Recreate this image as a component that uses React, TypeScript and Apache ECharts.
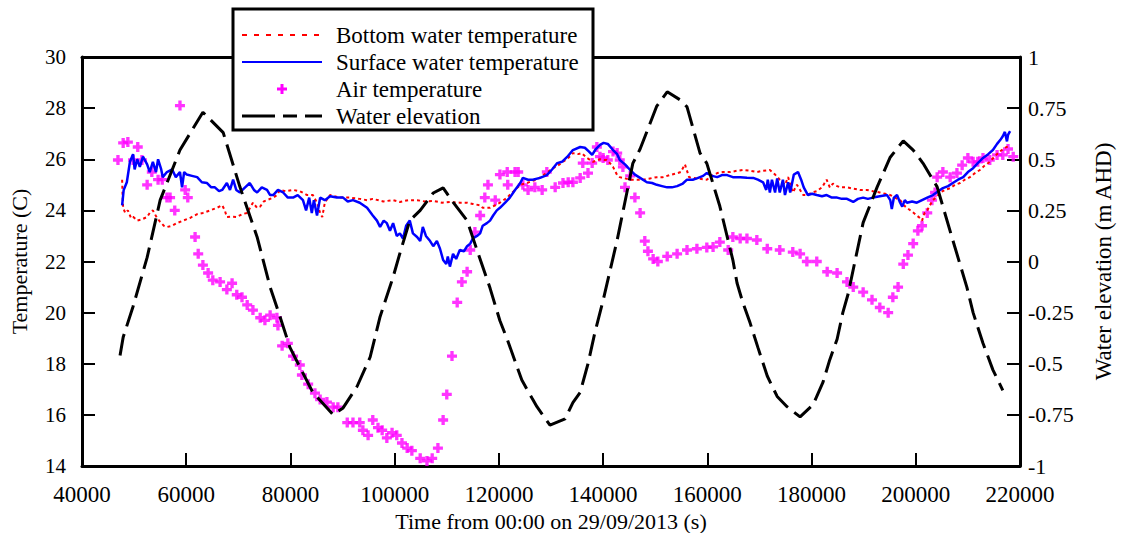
import React, { useEffect, useRef } from "react";
import * as echarts from "echarts";

// Time (s) vs bottom water temperature (C)
const bottomTemp: [number, number][] = [
  [47700, 25.2], [47800, 24.5], [47900, 24.1], [48300, 23.9], [48800, 24.0], [49400, 23.7], [49800, 23.75],
  [50600, 23.6], [51500, 23.65], [52500, 23.74], [53000, 23.9], [53600, 24.0], [54400, 23.7], [55000, 23.55],
  [55700, 23.4], [56300, 23.35], [57300, 23.4], [58200, 23.5], [59400, 23.6], [60700, 23.7], [62100, 23.85],
  [63200, 23.9], [64600, 24.0], [65900, 24.1], [66900, 24.2], [67400, 24.0], [67800, 23.74], [68800, 23.75],
  [69700, 23.74], [70700, 23.85], [71700, 23.9], [72800, 24.3], [73600, 24.1], [74200, 24.15], [74900, 24.35],
  [75500, 24.4], [76700, 24.5], [77400, 24.6], [78000, 24.8], [79100, 24.75], [80500, 24.8], [81800, 24.75],
  [83200, 24.6], [84300, 24.6], [85100, 24.3], [85700, 23.9], [86100, 23.74], [86600, 24.3], [87600, 24.6],
  [89500, 24.5], [91400, 24.5], [93300, 24.45], [94700, 24.4], [95800, 24.45], [97800, 24.35], [99700, 24.4],
  [101000, 24.33], [102600, 24.4], [104300, 24.4], [105800, 24.35], [107400, 24.37], [109100, 24.3],
  [110600, 24.33], [112500, 24.3], [113900, 24.3], [115000, 24.25], [116400, 24.2], [116900, 24.1],
  [118300, 24.1], [119300, 24.2], [120200, 24.3], [121600, 24.5], [122300, 24.65], [123100, 24.8],
  [124100, 25.0], [125400, 25.07], [126400, 25.15], [127300, 25.2], [128500, 25.38], [129400, 25.5],
  [130400, 25.65], [131300, 25.75], [132300, 25.9], [133300, 26.05], [134200, 26.24], [135200, 26.2],
  [135900, 26.24], [136900, 26.05], [138100, 25.9], [139400, 26.0], [140200, 25.97], [140700, 25.97],
  [141300, 25.85], [141900, 25.7], [142700, 25.38], [143200, 25.3], [143800, 25.27], [145200, 25.2],
  [146500, 25.2], [147700, 25.2], [149000, 25.25], [150300, 25.3], [151500, 25.3], [152800, 25.38],
  [154200, 25.45], [154900, 25.5], [155700, 25.8], [156500, 25.3], [158000, 25.25], [159900, 25.2],
  [160900, 25.35], [161900, 25.46], [163000, 25.5], [164400, 25.5], [165700, 25.55], [166800, 25.58],
  [168200, 25.55], [169500, 25.5], [170700, 25.55], [172000, 25.58], [173000, 25.4], [173900, 25.2],
  [174900, 25.0], [175500, 25.3], [176100, 24.9], [176400, 24.7], [177200, 25.0], [177800, 24.8],
  [178400, 24.6], [179100, 24.6], [180100, 24.7], [181000, 24.75], [182000, 24.9], [182900, 25.2],
  [183500, 24.9], [184100, 25.05], [184900, 24.95], [185500, 24.9], [186800, 24.9], [188000, 24.85],
  [189300, 24.8], [190600, 24.8], [191800, 24.75], [193100, 24.7], [194100, 24.65], [195100, 24.6],
  [196000, 24.5], [197000, 24.4], [197700, 24.2], [198300, 24.1], [199300, 23.95], [200200, 23.8],
  [200800, 23.7], [201200, 23.6], [201700, 23.9], [202200, 24.0], [202700, 24.2], [203300, 24.4],
  [204100, 24.55], [204700, 24.7], [205600, 24.8], [206600, 24.87], [207500, 25.0], [208500, 25.07],
  [209400, 25.2], [210400, 25.3], [211300, 25.45], [212300, 25.58], [213200, 25.75], [214200, 25.9],
  [215100, 26.1], [216100, 26.3], [216800, 26.4], [217400, 26.48], [218000, 26.5],
];

// Time (s) vs surface water temperature (C)
const surfaceTemp: [number, number][] = [
  [47700, 24.2], [48000, 24.8], [48600, 25.1], [49200, 25.9], [49800, 26.2], [50100, 25.6], [50600, 26.0],
  [51100, 25.7], [51700, 26.1], [52500, 25.8], [53000, 25.5], [53600, 25.9], [54200, 25.5], [54600, 26.0],
  [55200, 25.6], [55500, 25.3], [56300, 25.5], [57300, 25.6], [58000, 25.3], [58800, 25.5], [59200, 24.9],
  [59600, 25.5], [60100, 25.4], [61100, 25.35], [62100, 25.3], [63000, 25.1], [64000, 25.07], [64800, 24.9],
  [65500, 24.9], [66300, 24.75], [66900, 24.8], [67800, 25.07], [68400, 24.8], [69000, 25.2], [69600, 24.8],
  [70300, 24.7], [71300, 24.9], [72200, 25.07], [73000, 24.8], [73600, 24.7], [74500, 24.9], [75500, 24.8],
  [76100, 24.6], [76700, 24.6], [77600, 24.8], [78600, 24.7], [79500, 24.5], [80500, 24.5], [81400, 24.6],
  [82400, 24.4], [83000, 24.0], [83600, 24.5], [84100, 23.9], [84500, 24.4], [85100, 23.8], [85700, 24.5],
  [86600, 24.4], [87600, 24.55], [88900, 24.5], [90100, 24.5], [91000, 24.35], [92000, 24.4], [93300, 24.3],
  [94700, 24.1], [95800, 23.8], [96600, 23.6], [97200, 23.35], [97900, 23.6], [98500, 23.5], [99100, 23.2],
  [99700, 23.5], [100400, 23.0], [101000, 23.1], [101600, 22.9], [102200, 23.4], [102900, 23.6],
  [103500, 23.1], [104300, 22.96], [104900, 22.8], [105400, 23.35], [106000, 23.0], [106800, 22.8],
  [107400, 22.6], [108100, 22.8], [108700, 22.5], [109300, 22.06], [109900, 21.9], [110200, 22.2],
  [110600, 21.8], [111200, 22.3], [111800, 22.1], [112500, 22.45], [113300, 22.4], [113900, 22.6],
  [114500, 22.7], [115000, 22.9], [115800, 23.0], [116400, 23.1], [116900, 23.4], [117700, 23.5],
  [118300, 23.6], [118900, 23.8], [119600, 24.0], [120200, 24.1], [121200, 24.3], [122100, 24.5],
  [123100, 24.8], [124100, 25.07], [124600, 25.27], [125600, 25.2], [126500, 25.2], [127900, 25.27],
  [129200, 25.38], [130200, 25.6], [131200, 25.85], [132100, 25.9], [133100, 26.09], [134200, 26.36],
  [135600, 26.48], [136500, 26.45], [137300, 26.3], [137900, 26.17], [138600, 26.4], [139400, 26.56],
  [140100, 26.64], [140900, 26.6], [141900, 26.36], [142700, 26.2], [143200, 25.97], [144200, 25.8],
  [145200, 25.58], [146100, 25.4], [147100, 25.27], [148400, 25.1], [149400, 25.07], [150300, 25.0],
  [151300, 24.95], [152300, 24.9], [153200, 24.9], [154200, 24.95], [155300, 25.05], [156100, 25.2],
  [157200, 25.2], [158000, 25.25], [159200, 25.35], [159900, 25.46], [160900, 25.35], [161900, 25.3],
  [162800, 25.38], [163800, 25.38], [164900, 25.3], [166300, 25.3], [167600, 25.28], [168800, 25.27],
  [169700, 25.2], [170700, 25.1], [171300, 24.8], [171600, 25.2], [172000, 24.7], [172400, 25.2],
  [173000, 24.7], [173400, 25.25], [173900, 24.7], [174500, 25.2], [174900, 24.6], [175500, 25.1],
  [175900, 24.7], [176600, 25.4], [177400, 25.5], [178000, 25.2], [178500, 24.9], [179300, 24.6],
  [180100, 24.65], [181000, 24.6], [182000, 24.55], [182900, 24.6], [183900, 24.5], [184900, 24.5],
  [185800, 24.45], [186800, 24.45], [188000, 24.33], [188900, 24.45], [189900, 24.5], [190800, 24.45],
  [191800, 24.5], [193100, 24.55], [194500, 24.6], [195100, 24.4], [195400, 24.05], [195800, 24.5],
  [196400, 24.6], [197000, 24.3], [197400, 24.15], [197900, 24.4], [198300, 24.3], [199300, 24.35],
  [200200, 24.3], [201200, 24.4], [202200, 24.5], [203300, 24.6], [204300, 24.75], [205200, 24.87],
  [206200, 24.95], [207100, 25.07], [208100, 25.2], [209100, 25.3], [210000, 25.5], [211000, 25.65],
  [211900, 25.85], [212900, 26.05], [213900, 26.2], [214800, 26.36], [215600, 26.6], [216200, 26.75],
  [216700, 26.9], [217100, 27.07], [217500, 26.7], [217700, 26.95], [218100, 27.1],
];

// Time (s) vs air temperature (C)
const airTemp: [number, number][] = [
  [46900, 25.97], [47900, 26.64], [48800, 26.67], [49800, 25.97], [50700, 26.48], [51500, 25.97],
  [52500, 25.0], [53400, 25.5], [54600, 25.2], [55400, 25.2], [56300, 24.5], [56900, 24.5], [57800, 24.0],
  [58800, 28.1], [59800, 24.8], [60300, 24.5], [61700, 22.96], [62300, 22.3], [63200, 21.86], [64200, 21.55],
  [65100, 21.27], [66500, 21.2], [67800, 20.9], [68800, 21.15], [69700, 20.7], [70700, 20.6], [71700, 20.3],
  [72800, 20.1], [74200, 19.8], [75100, 19.7], [76100, 19.9], [77400, 19.8], [77600, 19.5], [78400, 18.7],
  [79500, 18.8], [80500, 18.3], [81800, 17.95], [82200, 17.56], [83400, 17.2], [84700, 16.85], [85700, 16.6],
  [87000, 16.5], [88200, 16.3], [89100, 16.3], [90900, 15.7], [92000, 15.7], [93300, 15.7], [93900, 15.4],
  [94900, 15.2], [95800, 15.8], [96800, 15.5], [97600, 15.4], [98500, 15.1], [99500, 15.3], [100400, 15.2],
  [101400, 14.9], [102400, 14.7], [103300, 14.6], [104900, 14.3], [106200, 14.2], [107200, 14.3],
  [108300, 14.7], [109300, 15.8], [110000, 16.8], [111000, 18.3], [112000, 20.4], [112900, 21.2],
  [113900, 21.6], [114500, 22.45], [115400, 23.15], [116400, 23.8], [117300, 24.5], [117900, 25.0],
  [119300, 24.4], [120200, 25.4], [121600, 25.5], [121700, 25.0], [123100, 25.5], [123700, 25.5],
  [124600, 25.0], [125600, 24.8], [126900, 24.9], [128300, 24.8], [129200, 25.5], [130800, 24.9],
  [132300, 25.07], [133300, 25.1], [134200, 25.1], [135600, 25.27], [136100, 25.85], [137100, 25.46],
  [137900, 25.85], [138800, 26.48], [139400, 26.1], [140000, 26.05], [140900, 25.97], [141900, 26.3],
  [142700, 26.24], [143200, 25.97], [143800, 25.7], [144200, 24.9], [145200, 25.35], [146100, 24.5],
  [147100, 23.9], [148000, 22.8], [148600, 22.4], [149600, 22.1], [150500, 22.0], [152300, 22.2],
  [154200, 22.3], [156100, 22.45], [158000, 22.5], [159900, 22.55], [161100, 22.57], [162400, 22.76],
  [164000, 22.45], [164900, 22.96], [166300, 22.9], [167600, 22.9], [169500, 22.84], [171500, 22.5],
  [173900, 22.45], [176400, 22.37], [177800, 22.3], [179100, 22.0], [181000, 22.0], [183000, 21.6],
  [184900, 21.55], [186800, 21.2], [188000, 21.0], [189900, 20.8], [191600, 20.5], [193100, 20.2],
  [194700, 20.0], [195600, 20.6], [196600, 21.0], [197600, 21.9], [198500, 22.25], [199500, 22.7],
  [200400, 23.2], [201200, 23.4], [202200, 23.9], [203100, 24.4], [203700, 24.7], [204100, 25.3],
  [205200, 25.5], [206600, 25.3], [207900, 25.46], [208900, 25.77], [210000, 26.05], [211000, 25.9],
  [211900, 25.9], [212900, 26.05], [214200, 25.97], [215600, 26.17], [216700, 26.17], [217700, 26.4],
  [218700, 26.1],
];

// Time (s) vs water elevation (m AHD)
const waterElev: [number, number][] = [
  [47300, -0.46], [47900, -0.37], [49800, -0.22], [52500, 0.02], [55000, 0.3], [58800, 0.545],
  [63200, 0.73], [67100, 0.63], [70300, 0.365], [73600, 0.12], [76100, -0.125], [78000, -0.27],
  [79900, -0.42], [81800, -0.516], [84300, -0.64], [88200, -0.75], [90100, -0.716], [92800, -0.61],
  [95300, -0.467], [97200, -0.27], [99700, -0.076], [101000, 0.04], [102900, 0.2], [104900, 0.25],
  [107400, 0.335], [109300, 0.36], [111200, 0.29], [113900, 0.2], [115800, 0.056], [118300, -0.13],
  [120200, -0.29], [121600, -0.38], [124400, -0.58], [126400, -0.67], [127300, -0.71], [129800, -0.8],
  [132700, -0.77], [134200, -0.69], [135600, -0.64], [137100, -0.5], [138400, -0.35], [140000, -0.19],
  [142700, 0.105], [145700, 0.48], [147100, 0.55], [150300, 0.76], [152300, 0.83], [154800, 0.79],
  [156100, 0.756], [158600, 0.53], [159900, 0.48], [162400, 0.27], [164900, 0.007], [165700, -0.105],
  [166800, -0.2], [168200, -0.3], [169700, -0.42], [171500, -0.56], [173400, -0.66], [175300, -0.71],
  [177800, -0.76], [180300, -0.7], [182200, -0.59], [183500, -0.48], [184900, -0.38], [186000, -0.25],
  [187000, -0.16], [189900, 0.19], [192600, 0.365], [195100, 0.51], [197600, 0.59], [199500, 0.545],
  [201400, 0.48], [204100, 0.365], [207100, 0.105], [209800, -0.125], [211000, -0.25], [212900, -0.4],
  [214800, -0.53], [216700, -0.63],
];

const legendLabels = [
  "Bottom water temperature",
  "Surface water temperature",
  "Air temperature",
  "Water elevation",
];

const FONT = "Liberation Serif";
const PLUS = "path://M3,0H6V3H9V6H6V9H3V6H0V3H3Z";

export default function App() {
  const ref = useRef<HTMLDivElement>(null);
  useEffect(() => {
    const chart = echarts.init(ref.current!, null, { renderer: "svg" });
    const line = { show: true, onZero: false, lineStyle: { color: "#000", width: 3 } };
    const tick = { show: true, inside: true, length: 13, lineStyle: { color: "#000", width: 2 } };
    const legendY = [35, 62, 89, 116];
    chart.setOption({
      animation: false,
      grid: { left: 82, right: 106, top: 57, bottom: 67, outerBoundsMode: "none", containLabel: false },
      xAxis: [
        {
          type: "value", min: 40000, max: 220000, interval: 20000, position: "bottom",
          name: "Time from 00:00 on 29/09/2013 (s)",
          nameLocation: "middle", nameGap: 40,
          nameTextStyle: { fontFamily: FONT, fontSize: 22, color: "#000" },
          axisLabel: { fontFamily: FONT, fontSize: 23, color: "#000", margin: 17, formatter: (v: number) => String(v) },
          axisLine: line, axisTick: tick, splitLine: { show: false },
        },
        {
          type: "value", min: 40000, max: 220000, interval: 20000, position: "top",
          axisLine: line, axisTick: { show: false }, axisLabel: { show: false }, splitLine: { show: false },
        },
      ],
      yAxis: [
        {
          type: "value", min: 14, max: 30, interval: 2, position: "left",
          name: "Temperature (C)", nameLocation: "middle", nameGap: 52, nameRotate: 90,
          nameTextStyle: { fontFamily: FONT, fontSize: 22, color: "#000" },
          axisLabel: { fontFamily: FONT, fontSize: 21, color: "#000", margin: 16 },
          axisLine: line, axisTick: tick, splitLine: { show: false },
        },
        {
          type: "value", min: -1, max: 1, interval: 0.25, position: "right",
          name: "Water elevation (m AHD)", nameLocation: "middle", nameGap: 72, nameRotate: 90,
          nameTextStyle: { fontFamily: FONT, fontSize: 23, color: "#000" },
          axisLabel: { fontFamily: FONT, fontSize: 22, color: "#000", margin: 8, formatter: (v: number) => String(v) },
          axisLine: line, axisTick: tick, splitLine: { show: false },
        },
      ],
      series: [
        {
          name: legendLabels[0], type: "line", yAxisIndex: 0, data: bottomTemp,
          showSymbol: false, symbol: "none",
          lineStyle: { color: "#ff0000", width: 2, type: [3, 3] },
        },
        {
          name: legendLabels[1], type: "line", yAxisIndex: 0, data: surfaceTemp,
          showSymbol: false, symbol: "none",
          lineStyle: { color: "#0000ff", width: 2.5 },
        },
        {
          name: legendLabels[2], type: "scatter", yAxisIndex: 0, data: airTemp,
          symbol: PLUS, symbolSize: 10, itemStyle: { color: "#ff00ff" },
        },
        {
          name: legendLabels[3], type: "line", yAxisIndex: 1, data: waterElev,
          showSymbol: false, symbol: "none",
          lineStyle: { color: "#000", width: 3, type: [22, 8] },
        },
      ],
      graphic: [
        { type: "rect", z: 100, shape: { x: 233, y: 9, width: 360, height: 121 }, style: { fill: "#fff", stroke: "#000", lineWidth: 3 } },
        { type: "line", z: 101, shape: { x1: 242, y1: legendY[0], x2: 322, y2: legendY[0] }, style: { stroke: "#ff0000", lineWidth: 2, lineDash: [5, 7] } },
        { type: "line", z: 101, shape: { x1: 242, y1: legendY[1], x2: 322, y2: legendY[1] }, style: { stroke: "#0000ff", lineWidth: 2 } },
        { type: "rect", z: 101, shape: { x: 277, y: legendY[2] - 1.5, width: 10, height: 3 }, style: { fill: "#ff00ff" } },
        { type: "rect", z: 101, shape: { x: 280.5, y: legendY[2] - 5, width: 3, height: 10 }, style: { fill: "#ff00ff" } },
        { type: "line", z: 101, shape: { x1: 242, y1: legendY[3], x2: 275, y2: legendY[3] }, style: { stroke: "#000", lineWidth: 3 } },
        { type: "line", z: 101, shape: { x1: 283, y1: legendY[3], x2: 297, y2: legendY[3] }, style: { stroke: "#000", lineWidth: 3 } },
        { type: "line", z: 101, shape: { x1: 305, y1: legendY[3], x2: 322, y2: legendY[3] }, style: { stroke: "#000", lineWidth: 3 } },
        ...legendLabels.map((t, i) => ({
          type: "text", z: 101, x: 336, y: legendY[i],
          style: { text: t, fontFamily: FONT, fontSize: 23, fill: "#000", verticalAlign: "middle" },
        })),
      ],
    });
    return () => chart.dispose();
  }, []);
  return (
    <div
      ref={ref}
      style={{ position: "fixed", left: 0, top: 0, width: 1126, height: 533, background: "#fff" }}
    />
  );
}
